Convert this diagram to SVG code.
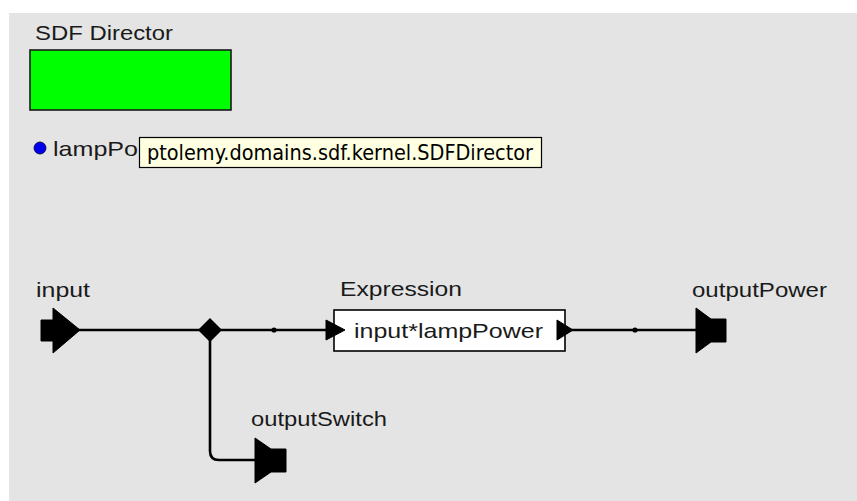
<svg xmlns="http://www.w3.org/2000/svg" width="857" height="501" viewBox="0 0 857 501">
  <defs>
    <style>
      .bg { fill: #e4e4e4; }
      .lbl { font-family: "Liberation Sans", Arial, sans-serif; font-size: 21px; fill: #1a1a1a; }
      .tip { font-family: "DejaVu Sans", Tahoma, sans-serif; font-size: 21px; fill: #000; }
      .link { fill: none; stroke: #000; stroke-width: 2.6; stroke-linejoin: round; }
      .port { fill: #000; stroke: #000; stroke-width: 1; stroke-linejoin: miter; }
    </style>
  </defs>

  <!-- canvas -->
  <rect class="bg" x="9" y="13" width="848" height="488"/>

  <!-- connectors -->
  <g id="connectors">
    <line class="link" x1="78" y1="330" x2="200" y2="330"/>
    <line class="link" x1="220" y1="330" x2="327" y2="330"/>
    <path class="link" d="M210,340 V451 Q210,460 219,460 H257"/>
    <line class="link" x1="571" y1="330" x2="697" y2="330"/>
    <circle cx="274" cy="330" r="2.6" fill="#000"/>
    <circle cx="635" cy="330" r="2.6" fill="#000"/>
  </g>

  <!-- director -->
  <g id="sdf-director">
    <text class="lbl" x="35" y="40" textLength="138" lengthAdjust="spacingAndGlyphs">SDF Director</text>
    <rect x="30" y="50" width="201" height="60" fill="#00ff00" stroke="#1a1a1a" stroke-width="1.6"/>
  </g>

  <!-- parameter -->
  <g id="lampPower">
    <circle cx="40" cy="148" r="6" fill="#0000ee" stroke="#000033" stroke-width="0.8"/>
    <text class="lbl" x="53" y="156" textLength="85" lengthAdjust="spacingAndGlyphs">lampPo</text>
  </g>

  <!-- tooltip -->
  <g id="tooltip">
    <rect x="139.5" y="137.5" width="402" height="30" fill="#ffffe1" stroke="#000" stroke-width="1.2"/>
    <text class="tip" x="147" y="160" textLength="386" lengthAdjust="spacingAndGlyphs">ptolemy.domains.sdf.kernel.SDFDirector</text>
  </g>

  <!-- input port -->
  <g id="input">
    <text class="lbl" x="36" y="297" textLength="54" lengthAdjust="spacingAndGlyphs">input</text>
    <polygon class="port" points="41,320 53,320 53,308 80,330 53,353 53,341 41,341"/>
  </g>

  <!-- relation -->
  <g id="relation">
    <polygon fill="#000" points="198,330 210,318 222,330 210,342"/>
  </g>

  <!-- expression actor -->
  <g id="Expression">
    <text class="lbl" x="340" y="296" textLength="122" lengthAdjust="spacingAndGlyphs">Expression</text>
    <rect x="334" y="310" width="231" height="41" fill="#fff" stroke="#000" stroke-width="1.6"/>
    <text class="lbl" x="354" y="338" textLength="189" lengthAdjust="spacingAndGlyphs">input*lampPower</text>
    <polygon class="port" points="326,320 345,330 326,340"/>
    <polygon class="port" points="557,320 573,330 557,340"/>
  </g>

  <!-- output ports -->
  <g id="outputPower">
    <text class="lbl" x="692" y="297" textLength="135" lengthAdjust="spacingAndGlyphs">outputPower</text>
    <polygon class="port" points="696,308 711,319 726,319 726,342 711,342 696,353"/>
  </g>

  <g id="outputSwitch">
    <text class="lbl" x="251" y="426" textLength="136" lengthAdjust="spacingAndGlyphs">outputSwitch</text>
    <polygon class="port" points="255,438 271,449 286,449 286,472 271,472 255,483"/>
  </g>
</svg>
